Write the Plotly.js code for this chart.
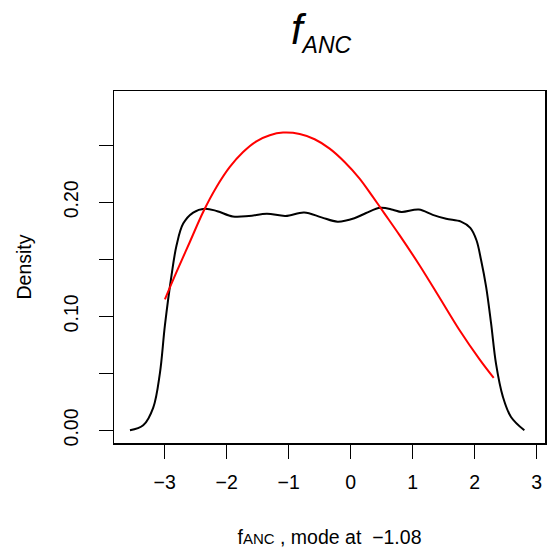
<!DOCTYPE html>
<html>
<head>
<meta charset="utf-8">
<script src="https://cdn.plot.ly/plotly-3.0.1.min.js"></script>
<style>html,body{margin:0;padding:0;background:#fff;}</style>
</head>
<body>
<div id="chart" style="width:547px;height:551px;"></div>
<script>
// Kernel density of f_ANC (black)
const densityX = [-3.559, -3.345, -3.183, -3.076, -2.995, -2.888, -2.807, -2.700, -2.539, -2.351, -2.150, -1.900, -1.640, -1.350, -1.050, -0.750, -0.470, -0.210, 0.060, 0.250, 0.480, 0.680, 0.820, 1.100, 1.325, 1.541, 1.780, 1.930, 2.030, 2.105, 2.185, 2.265, 2.346, 2.453, 2.587, 2.802];
const densityY = [0.000, 0.0044, 0.020, 0.050, 0.092, 0.136, 0.1623, 0.1813, 0.191, 0.1944, 0.1922, 0.1876, 0.1880, 0.1900, 0.1880, 0.1911, 0.1868, 0.1830, 0.1860, 0.1906, 0.1952, 0.1935, 0.1915, 0.1936, 0.1890, 0.1855, 0.1830, 0.1775, 0.1667, 0.1491, 0.126, 0.094, 0.058, 0.030, 0.0117, 0.000];
// Fitted curve (red)
const fitX = [-2.995, -2.807, -2.593, -2.378, -2.163, -1.948, -1.734, -1.519, -1.304, -1.090, -0.821, -0.580, -0.338, -0.097, 0.145, 0.359, 0.547, 0.789, 1.111, 1.433, 1.755, 2.077, 2.308];
const fitY = [0.1149, 0.1389, 0.1652, 0.1915, 0.2134, 0.2310, 0.2441, 0.2535, 0.2588, 0.2611, 0.2599, 0.2553, 0.2471, 0.2354, 0.2208, 0.2047, 0.1901, 0.1712, 0.1448, 0.1165, 0.0880, 0.0625, 0.0460];
// Axis ticks
const xTickVals = [-3, -2, -1, 0, 1, 2, 3];
const yTickVals = [0, 0.10, 0.20];
const yTickText = ["0.00", "0.10", "0.20"];
const yMinorTickVals = [0.05, 0.15, 0.25];
const modeValue = "\u22121.08";

const font = "Liberation Sans, Arial, Helvetica, sans-serif";

const traces = [
  {x: densityX, y: densityY, type: 'scatter', mode: 'lines',
   line: {color: '#000000', width: 2, shape: 'spline', smoothing: 1}, hoverinfo: 'skip'},
  {x: fitX, y: fitY, type: 'scatter', mode: 'lines',
   line: {color: '#ff0000', width: 2, shape: 'spline', smoothing: 1}, hoverinfo: 'skip'}
];

const layout = {
  width: 547, height: 551,
  margin: {l: 114, r: 2, t: 91, b: 108, pad: 0},
  paper_bgcolor: '#ffffff', plot_bgcolor: '#ffffff',
  showlegend: false,
  font: {family: font, color: '#000000', size: 19},
  title: {
    text: "<i>f</i><sub><span style='font-size:23px'><i>ANC</i></span></sub>",
    font: {family: font, size: 42, color: '#000000'},
    x: 321/547, xanchor: 'center', xref: 'container',
    y: 1 - 29/551, yanchor: 'middle', yref: 'container'
  },
  xaxis: {
    range: [-3.816, 3.135], showgrid: false, zeroline: false,
    showline: true, mirror: true, linecolor: '#000', linewidth: 1.5,
    ticks: 'outside', ticklen: 14, tickwidth: 1.5, tickcolor: '#000',
    ticklabelstandoff: 7,
    tickvals: xTickVals, tickfont: {family: font, size: 19.5, color: '#000'},
    title: {text: "f<span style='font-size:15px'>ANC</span> , mode at  " + modeValue,
            font: {family: font, size: 19.5, color: '#000'}, standoff: 38},
    automargin: false
  },
  yaxis: {
    range: [-0.0111, 0.2976], showgrid: false, zeroline: false,
    showline: true, mirror: true, linecolor: '#000', linewidth: 1.5,
    ticks: 'outside', ticklen: 14, tickwidth: 1.5, tickcolor: '#000',
    ticklabelstandoff: 13,
    tickvals: yTickVals, ticktext: yTickText, tickangle: -90,
    minor: {tickvals: yMinorTickVals, ticks: 'outside', ticklen: 14, tickwidth: 1.5, tickcolor: '#000', showgrid: false},
    tickfont: {family: font, size: 19.5, color: '#000'},
    title: {text: "Density", font: {family: font, size: 19.5, color: '#000'}, standoff: 23},
    automargin: false
  }
};

Plotly.newPlot('chart', traces, layout, {displayModeBar: false, staticPlot: true});
</script>
</body>
</html>
